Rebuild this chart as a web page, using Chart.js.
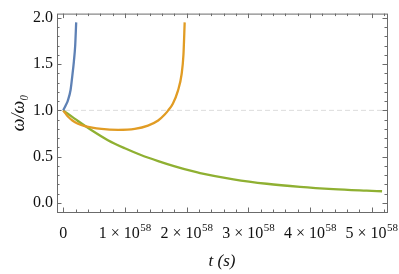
<!DOCTYPE html>
<html>
<head>
<meta charset="utf-8">
<script src="https://cdn.jsdelivr.net/npm/chart.js@4.4.1/dist/chart.umd.min.js"></script>
<style>
  html, body { margin: 0; padding: 0; background: #fff; }
</style>
</head>
<body>
<canvas id="chart" width="399" height="274"></canvas>
<script>
// ============================================================================
// DATA (t in units of 1e58 s)
// ============================================================================

const blueT  = [0, 0.04, 0.076, 0.12, 0.146, 0.174, 0.195, 0.211];
const blueW  = [1.0, 1.053, 1.106, 1.22, 1.36, 1.53, 1.70, 1.95];

const orangeT = [0, 0.04, 0.09, 0.15, 0.24, 0.35, 0.62, 0.89, 1.16, 1.375, 1.54, 1.646, 1.70, 1.78, 1.86, 1.92, 1.95, 1.97];
const orangeW = [1.0, 0.965, 0.925, 0.89, 0.855, 0.83, 0.80, 0.79, 0.80, 0.835, 0.89, 0.955, 0.997, 1.075, 1.21, 1.39, 1.60, 1.95];

const greenT = [0, 0.24, 0.455, 0.725, 1.0, 1.27, 1.54, 1.81, 2.08, 2.22, 2.76, 3.30, 3.84, 4.38, 4.92, 5.17];
const greenW = [1.0, 0.885, 0.788, 0.678, 0.590, 0.515, 0.452, 0.395, 0.345, 0.322, 0.255, 0.207, 0.174, 0.150, 0.133, 0.126];

const xMajorTicks = [0, 1, 2, 3, 4, 5];
const xMinorTicks = [0.2, 0.4, 0.6, 0.8, 1.2, 1.4, 1.6, 1.8, 2.2, 2.4, 2.6, 2.8,
                     3.2, 3.4, 3.6, 3.8, 4.2, 4.4, 4.6, 4.8, 5.2];
const xTickLabels = ['0', '1 × 10^58', '2 × 10^58', '3 × 10^58', '4 × 10^58', '5 × 10^58'];

const yMajorTicks = [0, 0.5, 1.0, 1.5, 2.0];
const yMinorTicks = [0.1, 0.2, 0.3, 0.4, 0.6, 0.7, 0.8, 0.9, 1.1, 1.2, 1.3, 1.4,
                     1.6, 1.7, 1.8, 1.9];
const yTickLabels = ['0.0', '0.5', '1.0', '1.5', '2.0'];

const refLevel = 1.0;

// ============================================================================
// STYLE
// ============================================================================

const SERIF = '"Liberation Serif", "DejaVu Serif", serif';
const FRAME = '#6b6b6b';
const INK = '#111';

const toPoints = (xs, ys) => xs.map((x, i) => ({ x: x, y: ys[i] }));

function lineSet(xs, ys, color) {
    return {
        data: toPoints(xs, ys),
        borderColor: color,
        borderWidth: 2.3,
        pointRadius: 0,
        fill: false,
        cubicInterpolationMode: 'monotone'
    };
}

// Frame, inward ticks on all four sides, dashed reference line, x labels
const framePlugin = {
    id: 'frame',
    beforeDatasetsDraw(chart) {
        const { ctx, chartArea: a, scales: { y } } = chart;
        const py = y.getPixelForValue(refLevel);
        ctx.save();
        ctx.strokeStyle = '#dcdcdc';
        ctx.lineWidth = 1;
        ctx.setLineDash([5, 3]);
        ctx.beginPath();
        ctx.moveTo(a.left, py);
        ctx.lineTo(a.right, py);
        ctx.stroke();
        ctx.restore();
    },
    afterDraw(chart) {
        const { ctx, chartArea: a, scales: { x, y } } = chart;
        ctx.save();
        ctx.strokeStyle = FRAME;
        ctx.lineWidth = 1;
        ctx.strokeRect(a.left + 0.5, a.top + 0.5, a.right - a.left, a.bottom - a.top);
        ctx.beginPath();
        const xt = (vals, len) => vals.forEach(v => {
            const px = Math.round(x.getPixelForValue(v)) + 0.5;
            ctx.moveTo(px, a.bottom); ctx.lineTo(px, a.bottom - len);
            ctx.moveTo(px, a.top); ctx.lineTo(px, a.top + len);
        });
        const yt = (vals, len) => vals.forEach(v => {
            const py = Math.round(y.getPixelForValue(v)) + 0.5;
            ctx.moveTo(a.left, py); ctx.lineTo(a.left + len, py);
            ctx.moveTo(a.right, py); ctx.lineTo(a.right - len, py);
        });
        xt(xMajorTicks, 4.5); xt(xMinorTicks, 2.5);
        yt(yMajorTicks, 4.5); yt(yMinorTicks, 2.5);
        ctx.stroke();

        // x tick labels with a raised exponent
        ctx.fillStyle = INK;
        ctx.textBaseline = 'alphabetic';
        ctx.textAlign = 'left';
        const base = a.bottom + 25.5;
        xMajorTicks.forEach((v, i) => {
            const [mant, exp] = xTickLabels[i].split('^');
            ctx.font = '16px ' + SERIF;
            const wm = ctx.measureText(mant).width;
            ctx.font = '11px ' + SERIF;
            const we = exp ? ctx.measureText(exp).width : 0;
            const x0 = x.getPixelForValue(v) - (wm + we) / 2;
            ctx.font = '16px ' + SERIF;
            ctx.fillText(mant, x0, base);
            if (exp) {
                ctx.font = '11px ' + SERIF;
                ctx.fillText(exp, x0 + wm + 0.5, base - 6.5);
            }
        });
        ctx.restore();
    }
};

new Chart(document.getElementById('chart'), {
    type: 'line',
    data: {
        datasets: [
            lineSet(blueT, blueW, '#5e81b5'),
            lineSet(orangeT, orangeW, '#e19c24'),
            lineSet(greenT, greenW, '#8fb032')
        ]
    },
    options: {
        responsive: false,
        animation: false,
        layout: { padding: { top: 9, right: 12, bottom: 0, left: 0 } },
        plugins: { legend: { display: false }, tooltip: { enabled: false } },
        scales: {
            x: {
                type: 'linear',
                min: -0.1,
                max: 5.25,
                afterBuildTicks: s => { s.ticks = xMajorTicks.map(v => ({ value: v })); },
                afterFit: s => { s.height = 62; },
                grid: { display: false, drawTicks: false },
                border: { display: false },
                ticks: { display: false },
                title: {
                    display: true,
                    text: 't (s)',
                    color: INK,
                    font: { family: SERIF, size: 17, style: 'italic' },
                    padding: { top: 0, bottom: 2 }
                }
            },
            y: {
                type: 'linear',
                min: -0.098,
                max: 2.045,
                afterBuildTicks: s => { s.ticks = yMajorTicks.map(v => ({ value: v })); },
                afterFit: s => { s.width = 57; },
                grid: { display: false, drawTicks: false },
                border: { display: false },
                ticks: {
                    color: INK,
                    font: { family: SERIF, size: 16 },
                    padding: 4,
                    autoSkip: false,
                    callback: (v, i) => yTickLabels[i]
                },
                title: {
                    display: true,
                    text: 'ω/ω₀',
                    color: INK,
                    font: { family: SERIF, size: 18, style: 'italic' },
                    padding: { top: 8, bottom: 0 }
                }
            }
        }
    },
    plugins: [framePlugin]
});
</script>
</body>
</html>
